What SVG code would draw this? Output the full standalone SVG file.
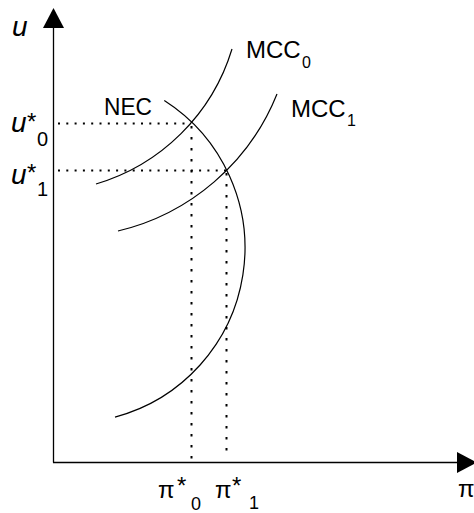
<svg xmlns="http://www.w3.org/2000/svg" width="474" height="513" viewBox="0 0 474 513">
<style>
.ax{stroke:#000;stroke-width:1.3;fill:none}
.cv{stroke:#000;stroke-width:1.2;fill:none}
.dh{stroke:#000;stroke-width:2;fill:none;stroke-dasharray:2 6.3}
.dv{stroke:#000;stroke-width:2;fill:none;stroke-dasharray:2.5 8.5}
.t{font-family:"Liberation Sans",Arial,sans-serif;fill:#000}
.it{font-style:italic}
</style>
<rect width="474" height="513" fill="#fff"/>
<g id="axes">
<line class="ax" x1="53.5" y1="26" x2="53.5" y2="462.5"/>
<line class="ax" x1="53" y1="462.5" x2="459" y2="462.5"/>
<polygon points="53.5,8 43,28 64,28" fill="#000"/>
<polygon points="477,462.5 457,452 457,473" fill="#000"/>
<text class="t it" x="12" y="36" font-size="28">u</text>
<text class="t" x="458" y="497" font-size="24">π</text>
</g>
<g id="connectors">
<line class="dh" x1="58" y1="123.5" x2="191" y2="123.5"/>
<line class="dh" x1="58" y1="170.5" x2="226" y2="170.5"/>
<line class="dv" x1="191.5" y1="126" x2="191.5" y2="462"/>
<line class="dv" x1="226.5" y1="173" x2="226.5" y2="458"/>
</g>
<g id="NEC">
<path class="cv" d="M164.3,100.6 A175,175 0 0 1 115,417.1"/>
<text class="t" x="104" y="115" font-size="24" textLength="48" lengthAdjust="spacingAndGlyphs">NEC</text>
</g>
<g id="MCC0">
<path class="cv" d="M96,184 A202,202 0 0 0 232,49"/>
<text class="t" x="246" y="58" font-size="24">MCC</text>
<text class="t" x="302" y="68" font-size="16">0</text>
</g>
<g id="MCC1">
<path class="cv" d="M118,231 A228,228 0 0 0 277,94"/>
<text class="t" x="291" y="117" font-size="24">MCC</text>
<text class="t" x="347" y="126" font-size="16">1</text>
</g>
<g id="u0">
<text class="t it" x="11" y="132" font-size="28">u</text>
<text class="t" x="27" y="130" font-size="24">*</text>
<text class="t" x="37" y="146" font-size="20">0</text>
</g>
<g id="u1">
<text class="t it" x="11" y="184" font-size="28">u</text>
<text class="t" x="27" y="181" font-size="24">*</text>
<text class="t" x="37" y="196" font-size="20">1</text>
</g>
<g id="pi0">
<text class="t" x="158" y="498" font-size="24">π</text>
<text class="t" x="177" y="494" font-size="24">*</text>
<text class="t" x="191" y="510" font-size="18">0</text>
</g>
<g id="pi1">
<text class="t" x="215" y="498" font-size="24">π</text>
<text class="t" x="232" y="494" font-size="24">*</text>
<text class="t" x="249" y="509" font-size="18">1</text>
</g>
</svg>
